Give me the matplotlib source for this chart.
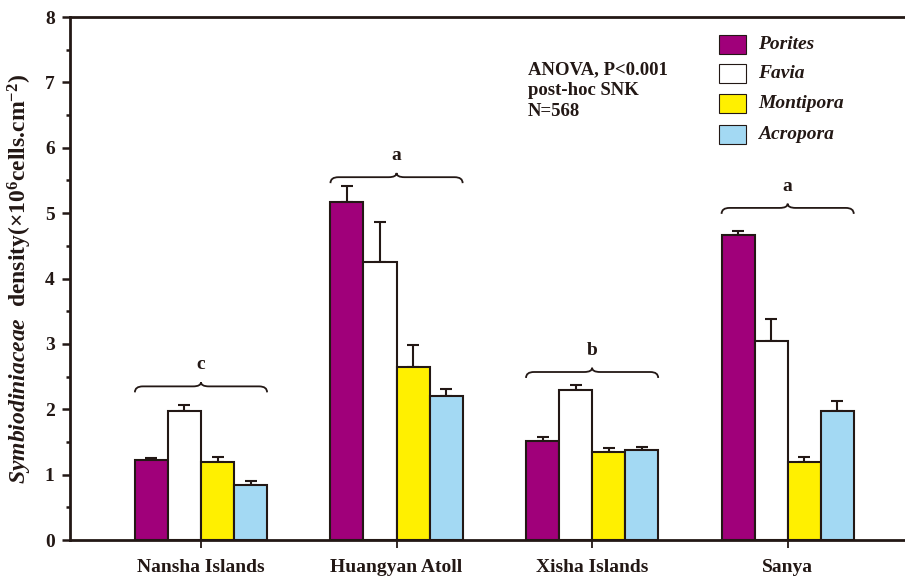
import matplotlib
matplotlib.use("Agg")
import matplotlib.pyplot as plt
import numpy as np
from matplotlib.path import Path
from matplotlib.patches import PathPatch, Rectangle

plt.rcParams['font.family'] = ['Liberation Serif', 'DejaVu Serif']
plt.rcParams['font.weight'] = 'bold'
plt.rcParams['mathtext.fontset'] = 'custom'
plt.rcParams['mathtext.rm'] = 'Liberation Serif:bold'
plt.rcParams['mathtext.it'] = 'Liberation Serif:bold:italic'
plt.rcParams['mathtext.bf'] = 'Liberation Serif:bold'

# data
sites = ["Nansha Islands", "Huangyan Atoll", "Xisha Islands", "Sanya"]
genera = ["Porites", "Favia", "Montipora", "Acropora"]
means = {
    "Porites":   [1.22, 5.17, 1.51, 4.67],
    "Favia":     [1.97, 4.25, 2.29, 3.04],
    "Montipora": [1.20, 2.65, 1.34, 1.20],
    "Acropora":  [0.84, 2.20, 1.38, 1.98],
}
errs = {
    "Porites":   [0.04, 0.24, 0.07, 0.05],
    "Favia":     [0.10, 0.61, 0.08, 0.34],
    "Montipora": [0.07, 0.34, 0.06, 0.07],
    "Acropora":  [0.06, 0.11, 0.05, 0.15],
}
groups = ["c", "a", "b", "a"]
brace_y = [2.35, 5.55, 2.57, 5.08]

colors = ["#A0007A", "#FFFFFF", "#FFF000", "#A3D9F3"]
dark = "#231815"

fig = plt.figure(figsize=(9.05, 5.77), dpi=100)
ax = fig.add_axes([0.0773, 0.0641, 0.9227, 0.9064])

x = np.arange(len(sites))
w = 0.169
for i, g in enumerate(genera):
    pos = x + (i - 1.5) * w
    ax.bar(pos, means[g], w, color=colors[i], edgecolor=dark, linewidth=1.5, zorder=2)
    ax.errorbar(pos, means[g], yerr=[np.zeros(len(sites)), errs[g]], fmt='none',
                ecolor=dark, elinewidth=1.5, capsize=4.5, capthick=1.5, zorder=1)


def brace(ax, x0, x1, y, h=0.13):
    xm = (x0 + x1) / 2
    d = (x1 - x0) * 0.06
    verts = [(x0, y - h * 0.7), (x0, y), (x0 + d, y),
             (xm - d, y), (xm, y), (xm, y + h * 0.5),
             (xm, y), (xm + d, y),
             (x1 - d, y), (x1, y), (x1, y - h * 0.7)]
    codes = [Path.MOVETO, Path.CURVE3, Path.CURVE3,
             Path.LINETO, Path.CURVE3, Path.CURVE3,
             Path.CURVE3, Path.CURVE3,
             Path.LINETO, Path.CURVE3, Path.CURVE3]
    ax.add_patch(PathPatch(Path(verts, codes), fill=False, edgecolor=dark, lw=1.3))


for k in range(len(sites)):
    brace(ax, x[k] - 2 * w, x[k] + 2 * w, brace_y[k])
    ax.text(x[k], brace_y[k] + 0.2, groups[k], ha='center', va='bottom',
            fontsize=14, fontweight='bold', color=dark)

ax.set_xlim(-0.67, 3.6)
ax.set_ylim(0, 8)
ax.set_xticks(x)
ax.set_xticklabels(sites, fontsize=14, fontweight='bold', color=dark)
ax.set_yticks(np.arange(0, 9, 1))
ax.set_yticks(np.arange(0, 8.5, 0.5), minor=True)
ax.tick_params(axis='y', which='major', direction='out', length=6, width=1.8,
               labelsize=14, color=dark, labelcolor=dark, pad=5)
ax.tick_params(axis='y', which='minor', direction='out', length=3, width=1.8, color=dark)
ax.tick_params(axis='x', which='major', direction='out', length=6, width=1.3,
               color=dark, pad=7.5)
for lab in ax.get_yticklabels():
    lab.set_fontweight('bold')

for s in ['left', 'bottom', 'top']:
    ax.spines[s].set_linewidth(2.0)
    ax.spines[s].set_color(dark)
ax.spines['right'].set_visible(False)

ax.set_ylabel(r'$\mathit{Symbiodiniaceae}$  density(×10$^{6}$cells.cm$^{-2}$)',
              fontsize=17, fontweight='bold', color=dark, labelpad=8)

ax.text(1.67, 7.33, "ANOVA, P<0.001\npost-hoc SNK\nN=568", ha='left', va='top',
        fontsize=13.5, fontweight='bold', color=dark, linespacing=1.3)

# legend drawn by hand
leg_y = [7.58, 7.13, 6.67, 6.21]
for c, g, yy in zip(colors, genera, leg_y):
    ax.add_patch(Rectangle((2.65, yy - 0.145), 0.138, 0.29, facecolor=c,
                           edgecolor=dark, linewidth=0.8, clip_on=False))
    ax.text(2.85, yy, g, ha='left', va='center', fontsize=14, fontstyle='italic',
            fontweight='bold', color=dark)

fig.savefig("out.png", dpi=100)
